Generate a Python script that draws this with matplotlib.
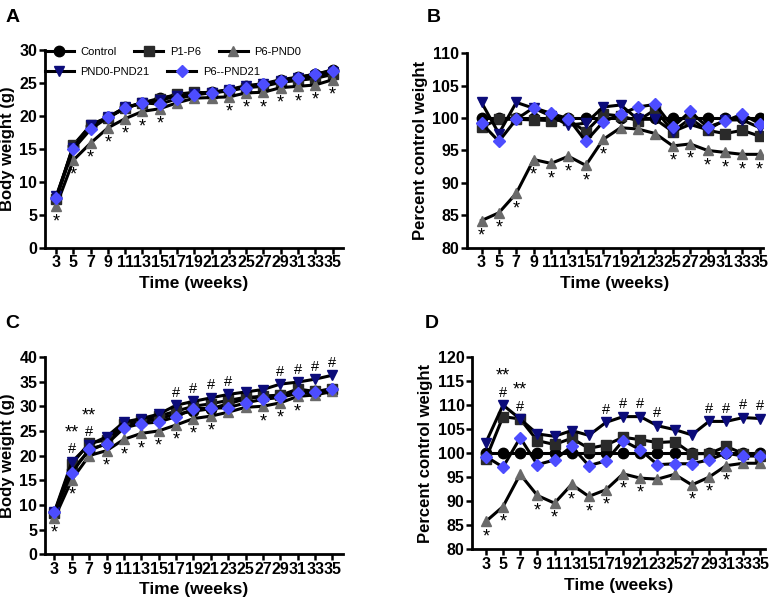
import matplotlib
matplotlib.use('Agg')
import matplotlib.pyplot as plt
from matplotlib.lines import Line2D

plt.rcParams['font.family'] = ['Liberation Sans', 'DejaVu Sans']
plt.rcParams['font.weight'] = 'bold'

weeks = [3, 5, 7, 9, 11, 13, 15, 17, 19, 21, 23, 25, 27, 29, 31, 33, 35]
groups = ['Control', 'P1-P6', 'P6-PND0', 'PND0-PND21', 'P6--PND21']

# Panel A - body weight (g)
a_control = [7.6, 15.5, 18.5, 19.8, 21.3, 22.0, 22.7, 23.2, 23.5, 23.6, 24.0, 24.6, 24.9, 25.5, 25.9, 26.3, 27.0]
a_p1p6 = [7.4, 15.6, 18.6, 19.7, 21.2, 22.0, 22.5, 23.3, 23.6, 23.5, 23.8, 24.3, 24.5, 25.1, 25.4, 25.7, 26.3]
a_p6pnd0 = [6.3, 13.3, 15.9, 18.2, 19.6, 20.7, 21.1, 22.0, 22.7, 22.8, 22.9, 23.5, 23.6, 24.3, 24.5, 24.7, 25.5]
a_pnd0pnd21 = [7.8, 15.2, 18.7, 19.8, 21.3, 21.9, 22.4, 23.0, 23.4, 23.5, 23.9, 24.5, 24.8, 25.3, 25.7, 26.1, 26.6]
a_p6pnd21 = [7.5, 15.0, 18.0, 19.8, 21.2, 22.0, 21.8, 22.6, 23.2, 23.5, 24.0, 24.3, 24.9, 25.3, 25.8, 26.4, 26.8]

# Panel B - percent control weight
b_control = [100] * 17
b_p1p6 = [98.6, 99.8, 99.8, 99.7, 99.6, 99.7, 97.9, 100.6, 100.3, 99.6, 101.3, 97.9, 99.9, 98.1, 97.6, 98.1, 97.2]
b_p6pnd0 = [84.2, 85.4, 88.4, 93.6, 93.0, 94.1, 92.7, 96.7, 98.5, 98.3, 97.6, 95.7, 96.0, 95.0, 94.7, 94.4, 94.4]
b_pnd0pnd21 = [102.4, 97.6, 102.4, 101.5, 100.3, 98.9, 99.2, 101.7, 102.0, 99.8, 99.8, 97.9, 99.0, 98.2, 99.7, 99.7, 98.5]
b_p6pnd21 = [99.2, 96.4, 99.8, 101.6, 100.7, 99.9, 96.4, 99.4, 100.6, 101.7, 102.1, 98.6, 101.0, 98.6, 99.5, 100.6, 99.1]

# Panel C - body weight (g)
c_control = [8.5, 17.0, 21.0, 22.5, 26.0, 26.8, 27.5, 28.4, 29.0, 29.5, 30.5, 31.5, 32.0, 32.3, 33.0, 33.0, 33.5]
c_p1p6 = [8.4, 18.3, 22.5, 23.2, 26.5, 27.3, 28.0, 29.0, 30.0, 30.5, 31.2, 31.8, 32.0, 32.2, 33.5, 33.0, 33.5]
c_p6pnd0 = [7.3, 15.1, 20.0, 21.0, 23.3, 24.5, 25.0, 26.2, 27.5, 28.0, 28.8, 29.8, 30.0, 30.7, 32.0, 32.3, 33.0]
c_pnd0pnd21 = [8.6, 18.7, 22.2, 23.8, 26.8, 27.5, 28.4, 30.2, 31.0, 31.7, 32.4, 32.9, 33.4, 34.5, 34.9, 35.5, 36.3]
c_p6pnd21 = [8.5, 16.5, 21.3, 22.3, 25.6, 26.5, 26.8, 27.9, 29.5, 29.6, 29.7, 30.7, 31.4, 31.8, 32.6, 32.8, 33.5]

# Panel D - percent control weight
d_control = [100] * 17
d_p1p6 = [98.8, 107.6, 107.1, 102.6, 101.8, 103.1, 101.0, 101.7, 103.3, 102.8, 102.2, 102.4, 99.9, 99.9, 101.4, 99.9, 99.4]
d_p6pnd0 = [85.8, 88.9, 95.6, 91.2, 89.6, 93.5, 91.0, 92.4, 95.7, 94.8, 94.6, 95.6, 93.4, 95.0, 97.4, 97.9, 97.9]
d_pnd0pnd21 = [102.2, 110.0, 107.1, 104.0, 103.5, 104.7, 103.7, 106.4, 107.6, 107.6, 105.7, 104.9, 103.8, 106.6, 106.6, 107.4, 107.2]
d_p6pnd21 = [99.3, 97.1, 103.2, 97.6, 98.6, 101.4, 97.4, 98.4, 102.6, 100.7, 97.6, 97.8, 97.8, 98.6, 100.0, 99.4, 99.4]

# significance marks
a_star = [3, 5, 7, 9, 11, 13, 15, 23, 25, 27, 29, 31, 33, 35]
b_star = [3, 5, 7, 9, 11, 13, 15, 17, 25, 27, 29, 31, 33, 35]
cd_star = [3, 5, 9, 11, 13, 15, 17, 19, 21, 27, 29, 31]
cd_hash = [5, 7, 17, 19, 21, 23, 29, 31, 33, 35]
cd_double = [5, 7]

styles = [
    dict(marker='o', color='#000000'),
    dict(marker='s', color='#2a2a2a'),
    dict(marker='^', color='#6a6a6a'),
    dict(marker='v', color='#0c0c7a'),
    dict(marker='D', color='#4d4dff'),
]


def draw_panel(ax, series, ylim, ystep, ylabel, xlim):
    for s, st in zip(series, styles):
        ms = 6.5 if st['marker'] == 'D' else 7.5
        ax.plot(weeks, s, color='black', lw=2.2, marker=st['marker'], ms=ms,
                mfc=st['color'], mec=st['color'], zorder=3)
    ax.set_xlim(*xlim)
    ax.set_ylim(*ylim)
    ax.set_xticks(weeks)
    ax.set_xticklabels([str(w) for w in weeks])
    ax.set_yticks(range(ylim[0], ylim[1] + 1, ystep))
    for side in ['top', 'right']:
        ax.spines[side].set_visible(False)
    for side in ['left', 'bottom']:
        ax.spines[side].set_linewidth(2)
    ax.tick_params(direction='out', length=4, width=1.8, labelsize=11.5, pad=1.5)
    for lab in ax.get_xticklabels() + ax.get_yticklabels():
        lab.set_fontweight('bold')
    ax.set_xlabel('Time (weeks)', fontsize=12.5, fontweight='bold', labelpad=4)
    ax.set_ylabel(ylabel, fontsize=12, fontweight='bold', labelpad=3)


def mark(ax, xs, ref, sym, dy, size):
    for x in xs:
        y = ref[weeks.index(x)]
        ax.annotate(sym, (x, y), xytext=(0, dy), textcoords='offset points',
                    ha='center', va='center', fontsize=size, fontweight='normal')


fig = plt.figure(figsize=(7.74, 6.03), dpi=100)
axA = fig.add_axes([0.058, 0.589, 0.385, 0.328])
axB = fig.add_axes([0.603, 0.589, 0.383, 0.323])
axC = fig.add_axes([0.058, 0.081, 0.385, 0.327])
axD = fig.add_axes([0.610, 0.089, 0.378, 0.319])

draw_panel(axA, [a_control, a_p1p6, a_p6pnd0, a_pnd0pnd21, a_p6pnd21],
           (0, 30), 5, 'Body weight (g)', (1.7, 36.2))
draw_panel(axB, [b_control, b_p1p6, b_p6pnd0, b_pnd0pnd21, b_p6pnd21],
           (80, 110), 5, 'Percent control weight', (1.3, 35.4))
draw_panel(axC, [c_control, c_p1p6, c_p6pnd0, c_pnd0pnd21, c_p6pnd21],
           (0, 40), 5, 'Body weight (g)', (1.9, 36.2))
draw_panel(axD, [d_control, d_p1p6, d_p6pnd0, d_pnd0pnd21, d_p6pnd21],
           (80, 120), 5, 'Percent control weight', (1.4, 35.5))

# panel letters
for x, y, letter in [(0.007, 0.985, 'A'), (0.551, 0.985, 'B'),
                     (0.007, 0.478, 'C'), (0.549, 0.478, 'D')]:
    fig.text(x, y, letter, fontsize=14, fontweight='bold', va='top', ha='left')

mark(axA, a_star, a_p6pnd0, '*', -11, 13)
mark(axB, b_star, b_p6pnd0, '*', -11, 13)
for ax, low, high in [(axC, c_p6pnd0, c_pnd0pnd21), (axD, d_p6pnd0, d_pnd0pnd21)]:
    mark(ax, cd_star, low, '*', -11, 13)
    mark(ax, cd_hash, high, '#', 9, 10.5)
    mark(ax, cd_double, high, '**', 21, 13)

# legend in panel A (two rows)
handles = [Line2D([], [], color='black', lw=2.2, marker=st['marker'],
                  ms=6.5 if st['marker'] == 'D' else 7.5,
                  mfc=st['color'], mec=st['color']) for st in styles]
leg1 = axA.legend(handles[:3], groups[:3], ncol=3, loc='center left',
                  bbox_to_anchor=(0.0, 0.99), frameon=False, fontsize=8,
                  handlelength=2.6, handletextpad=0.6, columnspacing=1.6,
                  numpoints=1, borderaxespad=0, borderpad=0)
for t in leg1.get_texts():
    t.set_fontweight('normal')
axA.add_artist(leg1)
leg2 = axA.legend(handles[3:], groups[3:], ncol=2, loc='center left',
                  bbox_to_anchor=(0.0, 0.89), frameon=False, fontsize=8,
                  handlelength=2.6, handletextpad=0.6, columnspacing=1.6,
                  numpoints=1, borderaxespad=0, borderpad=0)
for t in leg2.get_texts():
    t.set_fontweight('normal')

fig.savefig('out.png', dpi=100)
